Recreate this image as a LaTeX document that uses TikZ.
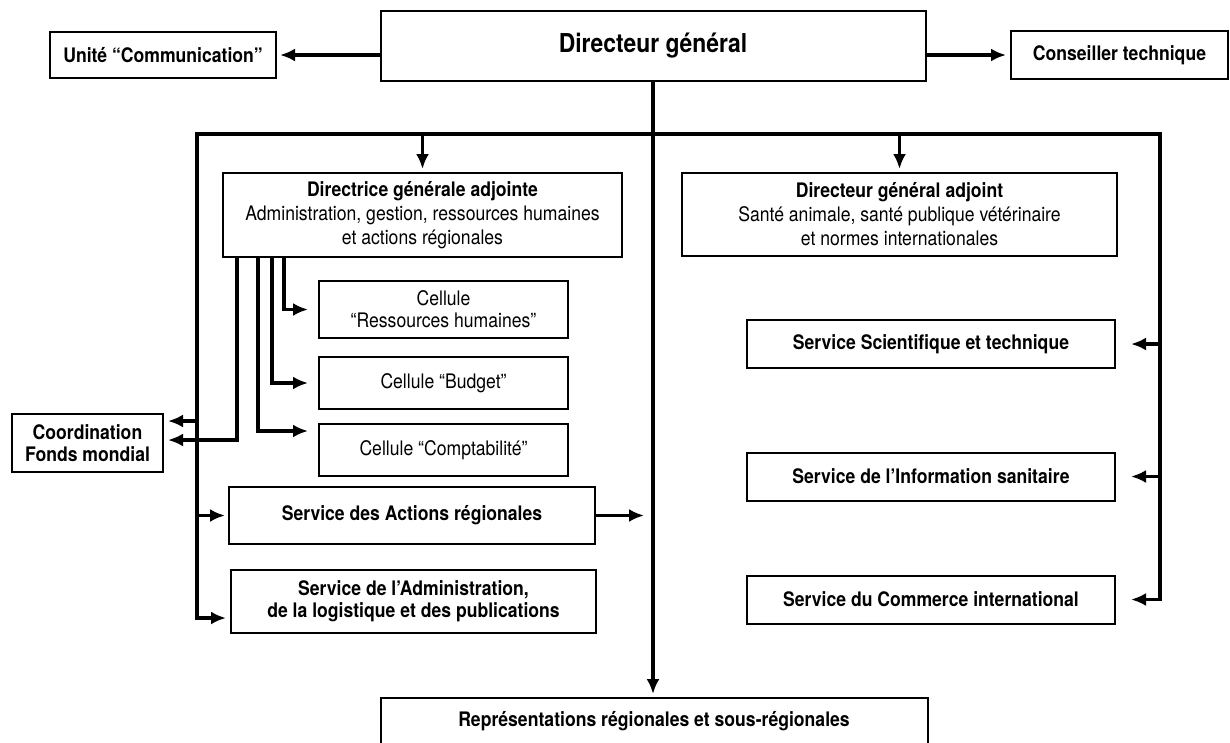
\documentclass[tikz,border=0pt]{standalone}
\usepackage{fontspec}
\setmainfont{TeX Gyre Heros}[FakeStretch=0.88]
\usetikzlibrary{arrows.meta}
\tikzset{
  unit/.style={draw, line width=2pt, align=center, inner sep=0pt,
    font=\fontsize{20}{22}\selectfont},
  head/.style={unit, font=\bfseries\fontsize{20}{22}\selectfont},
  link/.style={line width=3.5pt, -{Latex[length=15pt,width=13pt]}},
}
\begin{document}
\begin{tikzpicture}[x=1pt,y=-1pt]
\clip (0,0) rectangle (1230,742);
% top row
\node[head, minimum width=545pt, minimum height=70pt,
  font=\bfseries\fontsize{26}{30}\selectfont] (dg) at (653,46) {Directeur général};
\node[head, minimum width=226pt, minimum height=46pt] (comm) at (163,55) {Unité “Communication”};
\node[head, minimum width=217pt, minimum height=48pt] (cons) at (1119.5,55) {Conseiller technique};
% the two deputies
\node[unit, minimum width=399pt, minimum height=84pt, font=\fontsize{20}{24}\selectfont] (dgaL) at (422.5,215)
  {\textbf{Directrice générale adjointe}\\Administration, gestion, ressources humaines\\et actions régionales};
\node[unit, minimum width=435pt, minimum height=83pt, font=\fontsize{20}{24}\selectfont] (dgaR) at (899.5,214.5)
  {\textbf{Directeur général adjoint}\\Santé animale, santé publique vétérinaire\\et normes internationales};
% cells
\node[unit, minimum width=249pt, minimum height=57pt] (rh) at (443.5,309.5) {Cellule\\“Ressources humaines”};
\node[unit, minimum width=249pt, minimum height=52pt] (bud) at (443.5,383) {Cellule “Budget”};
\node[unit, minimum width=249pt, minimum height=52pt] (cpt) at (443.5,450) {Cellule “Comptabilité”};
\node[head, minimum width=151pt, minimum height=58pt] (coord) at (87.5,443) {Coordination\\Fonds mondial};
\node[head, minimum width=366pt, minimum height=57pt] (act) at (412,515.5) {Service des Actions régionales};
\node[head, minimum width=365pt, minimum height=63pt] (adm) at (413.5,601.5)
  {Service de l’Administration,\\de la logistique et des publications};
% services on the right
\foreach \name/\y/\txt in {sci/344/Service Scientifique et technique,
    info/476.5/Service de l’Information sanitaire,
    com/599.5/Service du Commerce international}
  \node[head, minimum width=368pt, minimum height=48pt] (\name) at (931,\y) {\txt};
\node[head, minimum width=547pt, minimum height=46pt] (rep) at (654,721)
  {Représentations régionales et sous-régionales};

\coordinate (busL) at (197,134);
\coordinate (busR) at (1160,134);
\coordinate (coordHi) at ([yshift=22pt]coord.east);

\draw[link, shorten >=3pt] (dg.west |- comm.east) -- (comm.east);
\draw[link, shorten >=4pt] (dg.east |- cons.west) -- (cons.west);
\draw[link, shorten >=3pt] (dg.south) -- (dg.south |- rep.north);
\draw[line width=3.5pt, line cap=rect] (busL) -- (busR);
\draw[link, shorten >=3pt] (dgaL.north |- busL) -- (dgaL.north);
\draw[link, shorten >=3pt] (dgaR.north |- busR) -- (dgaR.north);
% left branch
\draw[link, shorten >=4pt] (busL) |- ([yshift=-16.5pt]adm.west);
\draw[link, shorten >=3pt] (busL |- act.west) -- (act.west);
\draw[link, shorten >=4pt] (busL |- coordHi) -- (coordHi);
\draw[link, shorten >=4pt] ([xshift=15pt]dgaL.south west) |- ([yshift=3pt]coord.east);
\foreach \dx/\dy/\cell in {62/0/rh, 50/0/bud, 36/19/cpt}
  \draw[link, shorten >=10pt] ([xshift=\dx pt]dgaL.south west) |- ([yshift=\dy pt]\cell.west);
\draw[link, shorten >=9pt] (act.east) -- (act.east -| dg.south);
% right branch
\draw[link, shorten >=15pt] (busR) |- (com.east);
\draw[link, shorten >=15pt] (busR |- sci.east) -- (sci.east);
\draw[link, shorten >=15pt] (busR |- info.east) -- (info.east);
\end{tikzpicture}
\end{document}
